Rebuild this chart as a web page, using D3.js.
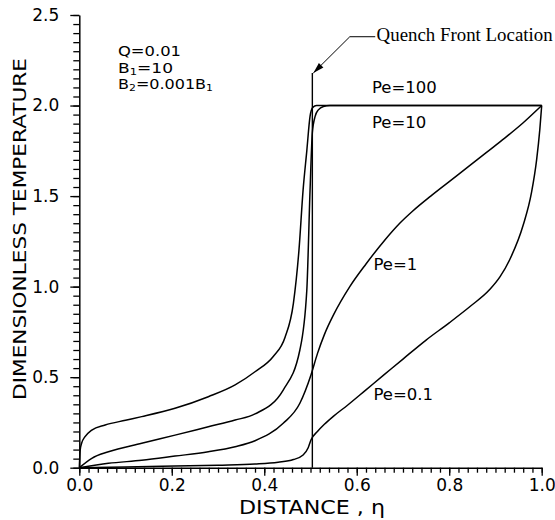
<!DOCTYPE html>
<html>
<head>
<meta charset="utf-8">
<script src="https://cdn.jsdelivr.net/npm/d3@7"></script>
<style>
  body { margin: 0; background: #fff; }
  text { font-family: "DejaVu Sans", sans-serif; fill: #000; }
</style>
</head>
<body>
<div id="container"></div>
<script>
/* DATA */
const xTickValues = [0, 0.2, 0.4, 0.6, 0.8, 1.0];
const yTickValues = [0, 0.5, 1.0, 1.5, 2.0, 2.5];

const pe100 = [[0,0],[0.002,0.10],[0.005,0.135],[0.012,0.17],[0.027,0.208],[0.056,0.236],
  [0.1,0.262],[0.135,0.282],[0.207,0.328],[0.279,0.392],[0.337,0.457],[0.38,0.53],
  [0.419,0.613],[0.445,0.72],[0.463,0.908],[0.475,1.2],[0.484,1.534],[0.492,1.75],
  [0.499,1.94],[0.505,1.99],[0.513,2.0],[1.0,2.0]];
const pe10 = [[0,0],[0.027,0.052],[0.063,0.088],[0.135,0.135],[0.207,0.18],[0.279,0.226],
  [0.337,0.263],[0.38,0.297],[0.441,0.429],[0.477,0.65],[0.492,0.98],[0.499,1.53],
  [0.504,1.85],[0.51,1.94],[0.517,1.976],[0.528,1.995],[0.542,2.0],[1.0,2.0]];
const pe1 = [[0,0],[0.063,0.024],[0.135,0.041],[0.207,0.064],[0.279,0.088],[0.337,0.116],
  [0.38,0.149],[0.441,0.245],[0.477,0.356],[0.501,0.512],[0.515,0.63],[0.53,0.735],
  [0.55,0.845],[0.585,1.0],[0.62,1.125],[0.66,1.255],[0.693,1.35],[0.72,1.415],
  [0.76,1.5],[0.8,1.58],[0.84,1.66],[0.88,1.74],[0.92,1.82],[0.96,1.905],[1.0,2.0]];
const pe01 = [[0,0],[0.1,0.004],[0.207,0.009],[0.3,0.014],[0.38,0.02],[0.43,0.03],
  [0.463,0.045],[0.484,0.07],[0.495,0.11],[0.501,0.153],[0.515,0.2],[0.53,0.24],
  [0.55,0.285],[0.58,0.345],[0.62,0.43],[0.66,0.515],[0.7,0.6],[0.75,0.705],
  [0.8,0.8],[0.845,0.89],[0.888,0.985],[0.91,1.055],[0.931,1.15],[0.96,1.34],
  [0.978,1.52],[0.989,1.70],[0.996,1.87],[1.0,2.0]];

const seriesNames = ["Pe=100", "Pe=10", "Pe=1", "Pe=0.1"];
const seriesValues = [pe100, pe10, pe1, pe01];
const quenchFront = 0.504;

/* CONSTANTS */
const width = 555, height = 520;

const x = d3.scaleLinear().domain([0, 1]).range([79.3, 541.7]);
const y = d3.scaleLinear().domain([0, 2.5]).range([467.7, 15]);

const svg = d3.select("#container")
  .append("svg")
  .attr("width", width)
  .attr("height", height);

// minor ticks
svg.append("g")
  .attr("transform", `translate(0,${y(0)})`)
  .call(d3.axisBottom(x).tickValues(d3.range(0, 1.001, 0.02)).tickSize(5).tickSizeOuter(0).tickFormat(""))
  .call(g => g.select(".domain").remove());
svg.append("g")
  .attr("transform", `translate(${x(0)},0)`)
  .call(d3.axisLeft(y).tickValues(d3.range(0, 2.501, 0.05)).tickSize(6).tickSizeOuter(0).tickFormat(""))
  .call(g => g.select(".domain").remove());

// major axes
svg.append("g")
  .attr("transform", `translate(0,${y(0)})`)
  .call(d3.axisBottom(x).tickValues(xTickValues).tickFormat(d3.format(".1f")).tickSize(8).tickSizeOuter(0).tickPadding(3));
svg.append("g")
  .attr("transform", `translate(${x(0)},0)`)
  .call(d3.axisLeft(y).tickValues(yTickValues).tickFormat(d3.format(".1f")).tickSize(9).tickSizeOuter(0).tickPadding(11));

svg.selectAll(".tick line").attr("stroke", "#000").attr("stroke-width", 1.3);
svg.selectAll(".domain").attr("stroke", "#000").attr("stroke-width", 1.5);
svg.selectAll(".tick text")
  .attr("font-size", "17px")
  .attr("font-family", "DejaVu Sans, sans-serif")
  .attr("fill", "#000");

// curves
const line = d3.line()
  .x(d => x(d[0]))
  .y(d => y(d[1]))
  .curve(d3.curveMonotoneX);

svg.selectAll("path.curve")
  .data(seriesValues)
  .join("path")
  .attr("class", "curve")
  .attr("d", line)
  .attr("fill", "none")
  .attr("stroke", "#000")
  .attr("stroke-width", 1.5);

// quench front line + leader arrow
svg.append("line")
  .attr("x1", x(quenchFront)).attr("x2", x(quenchFront))
  .attr("y1", y(0)).attr("y2", y(2.18))
  .attr("stroke", "#000").attr("stroke-width", 1.4);

const tip = [x(quenchFront) + 1, y(2.18)];
const elbow = [x(0.585), y(2.38)];
svg.append("polyline")
  .attr("points", [[x(0.64), y(2.38)], elbow, tip].map(p => p.join(",")).join(" "))
  .attr("fill", "none").attr("stroke", "#000").attr("stroke-width", 1);

const ang = Math.atan2(tip[1] - elbow[1], tip[0] - elbow[0]);
const aLen = 11, aHalf = 3.2;
const base = [tip[0] - aLen * Math.cos(ang), tip[1] - aLen * Math.sin(ang)];
svg.append("polygon")
  .attr("points", [
    tip,
    [base[0] + aHalf * Math.sin(ang), base[1] - aHalf * Math.cos(ang)],
    [base[0] - aHalf * Math.sin(ang), base[1] + aHalf * Math.cos(ang)]
  ].map(p => p.join(",")).join(" "))
  .attr("fill", "#000");

svg.append("text")
  .attr("x", x(0.643)).attr("y", y(2.354))
  .style("font-family", "'Liberation Serif', 'Times New Roman', serif")
  .attr("font-size", "18px")
  .attr("textLength", 176)
  .attr("lengthAdjust", "spacingAndGlyphs")
  .text("Quench Front Location");

// curve labels
const labelPos = [[0.633, 2.07], [0.633, 1.877], [0.636, 1.09], [0.636, 0.374]];
svg.selectAll("text.pe")
  .data(seriesNames)
  .join("text")
  .attr("class", "pe")
  .attr("x", (d, i) => x(labelPos[i][0]))
  .attr("y", (d, i) => y(labelPos[i][1]))
  .attr("font-size", "16.5px")
  .text(d => d);

// parameters
const params = svg.append("g").attr("font-size", "14px");
params.append("text").attr("x", 118).attr("y", 56)
  .attr("textLength", 63).attr("lengthAdjust", "spacingAndGlyphs")
  .text("Q=0.01");
const b1 = params.append("text").attr("x", 118).attr("y", 72.5)
  .attr("textLength", 55).attr("lengthAdjust", "spacingAndGlyphs");
b1.append("tspan").text("B");
b1.append("tspan").attr("font-size", "9.5px").attr("dy", 2).text("1");
b1.append("tspan").attr("dy", -2).text("=10");
const b2 = params.append("text").attr("x", 118).attr("y", 89)
  .attr("textLength", 95).attr("lengthAdjust", "spacingAndGlyphs");
b2.append("tspan").text("B");
b2.append("tspan").attr("font-size", "9.5px").attr("dy", 2).text("2");
b2.append("tspan").attr("dy", -2).text("=0.001B");
b2.append("tspan").attr("font-size", "9.5px").attr("dy", 2).text("1");

// axis titles
svg.append("text")
  .attr("x", 312).attr("y", 514)
  .attr("text-anchor", "middle")
  .attr("font-size", "19px")
  .attr("textLength", 146)
  .attr("lengthAdjust", "spacingAndGlyphs")
  .text("DISTANCE  , η");

svg.append("text")
  .attr("transform", `translate(25.5,229) rotate(-90)`)
  .attr("text-anchor", "middle")
  .attr("font-size", "18.5px")
  .attr("textLength", 342)
  .attr("lengthAdjust", "spacingAndGlyphs")
  .text("DIMENSIONLESS  TEMPERATURE");
</script>
</body>
</html>
